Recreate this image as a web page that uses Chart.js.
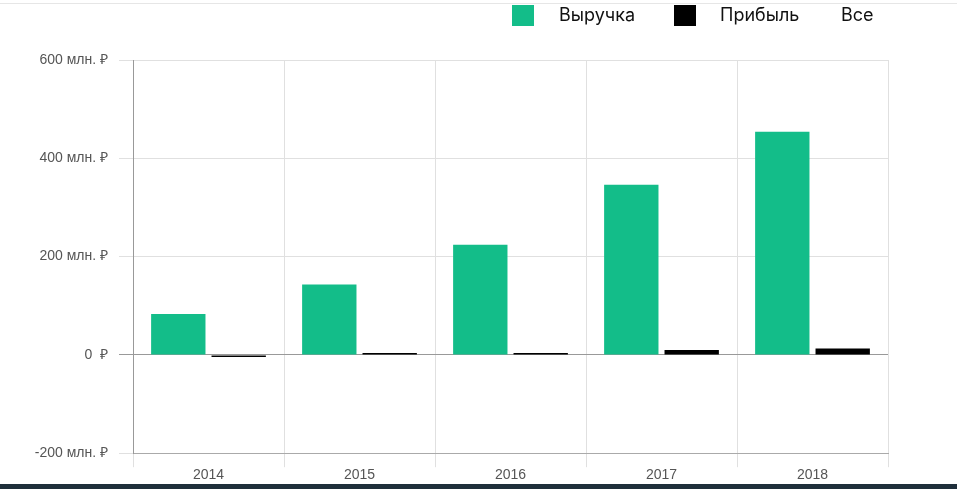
<!DOCTYPE html>
<html><head><meta charset="utf-8">
<script src="https://cdn.jsdelivr.net/npm/chart.js@4"></script>
<style>
body{margin:0;background:#fff;font-family:Inter,"Noto Sans",sans-serif;}
#top{position:absolute;left:0;top:3px;width:957px;height:1px;background:#e6e6e6;}
#legend{position:absolute;top:2px;left:512px;font-size:18px;color:#111;}
#legend span{position:absolute;white-space:nowrap;top:2px;}
.sq{position:absolute;width:22px;height:21px;top:3px;}
#wrap{position:absolute;left:0;top:0;width:957px;height:484px;}
#foot{position:absolute;left:0;top:484px;width:957px;height:5px;background:#1f2f3b;}
</style></head><body>
<div id="wrap"><canvas id="c"></canvas></div>
<div id="top"></div>
<div id="legend">
<div class="sq" style="left:0;background:#13bd89"></div><span style="left:47px">Выручка</span>
<div class="sq" style="left:162px;background:#000"></div><span style="left:208px">Прибыль</span>
<span style="left:329px">Все</span>
</div>
<div id="foot"></div>
<script>
var years = ['2014','2015','2016','2017','2018'];
var revenue = [83, 143, 224, 346, 454];
var profit = [-2, 1, 3, 10, 13];

var ctx = document.getElementById('c').getContext('2d');
var chart = new Chart(ctx, {
	type: 'bar',
	data: {
		labels: years,
		datasets: [
			{label: 'Выручка', data: revenue, backgroundColor: '#13bd89', barPercentage: 0.9, categoryPercentage: 0.8},
			{label: 'Прибыль', data: profit, backgroundColor: '#000', barPercentage: 0.9, categoryPercentage: 0.8, minBarLength: 2}
		]
	},
	options: {
		responsive: true,
		maintainAspectRatio: false,
		animation: false,
		layout: {padding: {top: 60, right: 69, bottom: 0, left: 0}},
		plugins: {legend: {display: false}, tooltip: {enabled: false}},
		scales: {
			x: {
				grid: {color: '#e0e0e0', tickLength: 14, drawOnChartArea: true},
				border: {color: '#aaa'},
				ticks: {color: '#555', font: {size: 14, family: 'Arial, Liberation Sans'}, padding: 0}
			},
			y: {
				min: -200, max: 600,
				afterFit: function(s){ s.width = 133; },
				grid: {color: function(c){ return c.tick.value === 0 ? '#999' : '#e0e0e0'; }, tickLength: 14},
				border: {color: '#999'},
				ticks: {
					stepSize: 200, color: '#555', padding: 11,
					font: {size: 14, family: 'Arial, Liberation Sans'},
					callback: function(v){ return v === 0 ? '0  ₽' : v + ' млн. ₽'; }
				}
			}
		}
	}
});
</script>
</body></html>
